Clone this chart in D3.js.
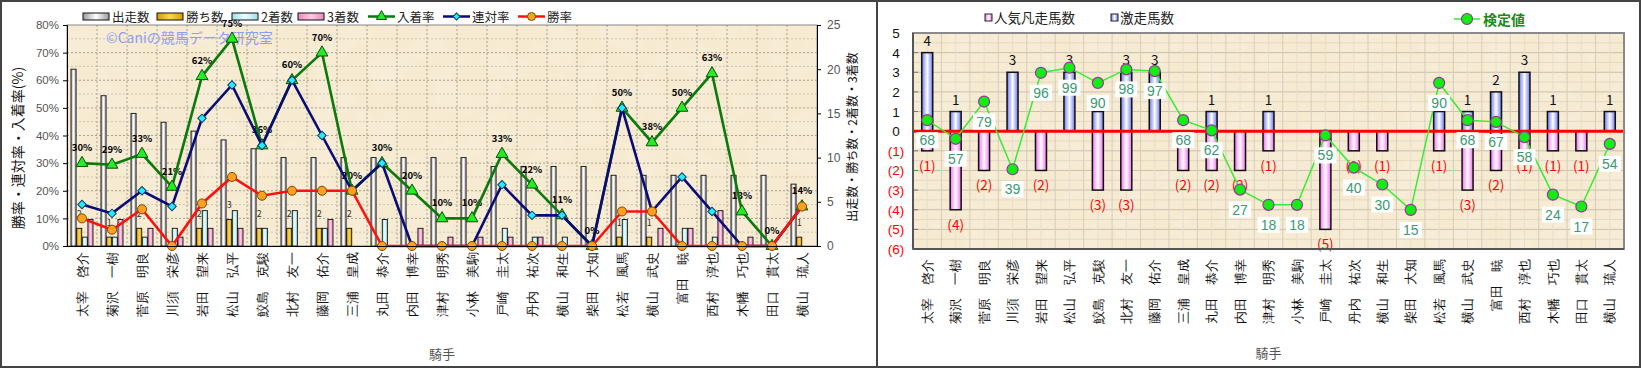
<!DOCTYPE html>
<html><head><meta charset="utf-8">
<script src="https://cdn.jsdelivr.net/npm/d3@7"></script>
<style>
body{margin:0;background:#fff;}
svg{display:block;font-family:"Noto Sans CJK JP","Noto Sans",sans-serif;}
</style>
</head><body>
<svg id="c" width="1641" height="368"></svg>
<script>
// ---------- data ----------
const jockeys = ["太宰　啓介","菊沢　一樹","菅原　明良","川須　栄彦","岩田　望来","松山　弘平","鮫島　克駿","北村　友一","藤岡　佑介","三浦　皇成","丸田　恭介","内田　博幸","津村　明秀","小林　美駒","戸崎　圭太","丹内　祐次","横山　和生","柴田　大知","松若　風馬","横山　武史","富田　暁","西村　淳也","木幡　巧也","田口　貫太","横山　琉人"];
const starts  = [20,17,15,14,13,12,11,10,10,10,10,10,10,10,9,9,9,9,8,8,8,8,8,8,7];
const wins    = [2,1,2,0,2,3,2,2,2,2,0,0,0,0,0,0,0,0,1,1,0,0,0,0,1];
const seconds = [1,1,1,2,4,4,2,4,2,0,3,0,0,0,2,1,1,0,3,0,2,1,0,0,0];
const thirds  = [3,3,2,1,2,2,0,0,3,0,0,2,1,1,1,1,0,0,0,2,2,4,1,0,0];
const placeRate = [30,29.4,33.3,21.4,61.5,75,36.4,60,70,20,30,20,10,10,33.3,22.2,11.1,0,50,37.5,50,62.5,12.5,0,14.3];
const rentaiRate = [15,11.8,20,14.3,46.2,58.3,36.4,60,40,20,30,0,0,0,22.2,11.1,11.1,0,50,12.5,25,12.5,0,0,14.3];
const winRate = [10,5.9,13.3,0,15.4,25,18.2,20,20,20,0,0,0,0,0,0,0,0,12.5,12.5,0,0,0,0,14.3];
const leftTicks = [0,10,20,30,40,50,60,70,80];
const rightTicks = [0,5,10,15,20,25];

const gekisou = [4,1,0,3,0,3,1,3,3,0,1,0,1,0,0,0,0,0,1,1,2,3,1,0,1];
const bonsou  = [1,4,2,0,2,0,3,3,0,2,2,2,1,0,5,1,1,0,1,3,2,1,1,1,0];
const kentei  = [68,57,79,39,96,99,90,98,97,68,62,27,18,18,59,40,30,15,90,68,67,58,24,17,54];
const rightTickVals = [-6,-5,-4,-3,-2,-1,0,1,2,3,4,5];

// ---------- setup ----------
const svg = d3.select("#c");
const defs = svg.append("defs");
function hgrad(id, edge, mid){
  const g = defs.append("linearGradient").attr("id",id).attr("x1","0%").attr("x2","100%").attr("y1","0%").attr("y2","0%");
  g.append("stop").attr("offset","0%").attr("stop-color",edge);
  g.append("stop").attr("offset","50%").attr("stop-color",mid);
  g.append("stop").attr("offset","100%").attr("stop-color",edge);
}
hgrad("gRuns","#9a9a9a","#ffffff");
hgrad("gWins","#d49a00","#ffd84a");
hgrad("g2nd","#9fdde6","#eaffff");
hgrad("g3rd","#e58cbc","#ffc8e4");
hgrad("gBlue","#6a78f0","#ffffff");
hgrad("gPink","#f070f0","#ffffff");

// parchment texture
const filt = defs.append("filter").attr("id","paper").attr("x","0").attr("y","0").attr("width","100%").attr("height","100%");
filt.append("feTurbulence").attr("type","fractalNoise").attr("baseFrequency","0.035").attr("numOctaves","3").attr("seed","4").attr("result","n");
filt.append("feColorMatrix").attr("in","n").attr("type","matrix")
  .attr("values","0 0 0 0 1  0 0 0 0 1  0 0 0 0 1  0 0 0 0.55 -0.18");

// panel frames
svg.append("rect").attr("x",1).attr("y",1).attr("width",876).attr("height",366).attr("fill","#fff").attr("stroke","#444").attr("stroke-width",2);
svg.append("rect").attr("x",877).attr("y",1).attr("width",763).attr("height",366).attr("fill","#fff").attr("stroke","#444").attr("stroke-width",2);

// ================= LEFT CHART =================
const L = {l:67, r:817, t:25, b:246};
const x = d3.scaleBand().domain(jockeys).range([L.l, L.r]);
const yL = d3.scaleLinear().domain([0,80]).range([L.b, L.t]);
const yR = d3.scaleLinear().domain([0,25]).range([L.b, L.t]);
const sub = d3.scaleBand().domain(["runs","wins","2nd","3rd"]).range([4,26]).paddingInner(0.1);

const gl = svg.append("g");
gl.append("rect").attr("x",L.l).attr("y",L.t).attr("width",L.r-L.l).attr("height",L.b-L.t).attr("fill","#f6ead0");
gl.append("rect").attr("x",L.l).attr("y",L.t).attr("width",L.r-L.l).attr("height",L.b-L.t).attr("filter","url(#paper)").attr("opacity",0.6);
// gridlines
d3.range(5,80,5).forEach(v=>{
  gl.append("line").attr("x1",L.l).attr("x2",L.r).attr("y1",yL(v)).attr("y2",yL(v))
    .attr("stroke", v%10===0 ? "#a8a090" : "#cfc6b2").attr("stroke-dasharray","2,2").attr("stroke-width",1);
});
jockeys.forEach((j,i)=>{ if(i>0){
  gl.append("line").attr("x1",x(j)).attr("x2",x(j)).attr("y1",L.t).attr("y2",L.b)
    .attr("stroke","#a8a090").attr("stroke-dasharray","2,2");
}});
gl.append("rect").attr("x",L.l).attr("y",L.t).attr("width",L.r-L.l).attr("height",L.b-L.t).attr("fill","none").attr("stroke","#888");

// watermark
gl.append("text").attr("x",106).attr("y",43).attr("font-size",14).attr("fill","#8f9cf4").text("©Caniの競馬データ研究室");

// bars
const barSeries = [
  {key:"runs", vals:starts, fill:"url(#gRuns)"},
  {key:"wins", vals:wins, fill:"url(#gWins)"},
  {key:"2nd", vals:seconds, fill:"url(#g2nd)"},
  {key:"3rd", vals:thirds, fill:"url(#g3rd)"}
];
barSeries.forEach(s=>{
  gl.selectAll(".b"+s.key).data(s.vals).join("rect")
    .attr("x",(d,i)=>x(jockeys[i])+sub(s.key)).attr("width",sub.bandwidth())
    .attr("y",d=>yR(d)).attr("height",d=>yR(0)-yR(d))
    .attr("fill",s.fill).attr("stroke",d=>d>0?"#111":"none").attr("stroke-width",0.9);
});
// rate labels (above bars, below lines)
gl.selectAll(".rl").data(placeRate).join("text")
  .attr("x",(d,i)=>x(jockeys[i])+x.bandwidth()/2).attr("y",d=>yL(d)-12)
  .attr("text-anchor","middle").attr("font-size",9.5).attr("font-weight","bold").attr("fill","#000")
  .text(d=>Math.round(d)+"%");
// win count labels
gl.selectAll(".wl").data(wins).join("text")
  .attr("x",(d,i)=>x(jockeys[i])+sub("wins")+sub.bandwidth()/2).attr("y",d=>yR(d)-11)
  .attr("text-anchor","middle").attr("font-size",9).attr("fill","#333")
  .text(d=>d>0?d:"");

// lines
function drawLine(vals, color, symType, symSize, fill, stroke, rot){
  const line = d3.line().x((d,i)=>x(jockeys[i])+x.bandwidth()/2).y(d=>yL(d));
  gl.append("path").datum(vals).attr("d",line).attr("fill","none").attr("stroke",color).attr("stroke-width",2.6);
  gl.selectAll(null).data(vals).join("path")
    .attr("d",d3.symbol(symType,symSize))
    .attr("transform",(d,i)=>`translate(${x(jockeys[i])+x.bandwidth()/2},${yL(d)}) rotate(${rot})`)
    .attr("fill",fill).attr("stroke",stroke).attr("stroke-width",1);
}
drawLine(placeRate,"#0a7a0a",d3.symbolTriangle,60,"#22ee22","#0b4d0b",0);
drawLine(rentaiRate,"#0a0a78",d3.symbolSquare,36,"#22eeff","#0a3a6a",45);
drawLine(winRate,"#ff1010",d3.symbolCircle,64,"#ffa020","#7a4a00",0);

// axes
const axL = gl.append("g").attr("transform",`translate(${L.l},0)`)
  .call(d3.axisLeft(yL).tickValues(leftTicks).tickFormat(d=>d+"%").tickSize(4).tickPadding(4));
axL.selectAll("text").attr("font-size",11.5).attr("fill","#555").attr("font-family","Liberation Sans, Arial, sans-serif");
axL.select(".domain").attr("stroke","#000");
const axR = gl.append("g").attr("transform",`translate(${L.r},0)`)
  .call(d3.axisRight(yR).tickValues(rightTicks).tickSize(4).tickPadding(6));
axR.selectAll("text").attr("font-size",12).attr("fill","#555").attr("font-family","Liberation Sans, Arial, sans-serif");
axR.select(".domain").attr("stroke","#000");
const axB = gl.append("g").attr("transform",`translate(0,${L.b})`)
  .call(d3.axisBottom(x).tickSize(0));
axB.select(".domain").attr("stroke","#000");
axB.selectAll("text").attr("transform","translate(0,6) rotate(-90)").attr("x",0).attr("y",0).attr("dy","0.36em")
  .style("text-anchor","end").attr("font-size",13).attr("fill","#111");

// titles
gl.append("text").attr("transform","translate(23,148) rotate(-90)").attr("text-anchor","middle")
  .attr("font-size",14).attr("fill","#111").text("勝率・連対率・入着率(%)");
gl.append("text").attr("transform","translate(857,137) rotate(-90)").attr("text-anchor","middle")
  .attr("font-size",12).attr("fill","#111").text("出走数・勝ち数・2着数・3着数");
gl.append("text").attr("x",(L.l+L.r)/2).attr("y",359).attr("text-anchor","middle")
  .attr("font-size",13).attr("fill","#555").text("騎手");

// legend
const legL = [
  {t:"出走数", f:"url(#gRuns)", x:83},
  {t:"勝ち数", f:"url(#gWins)", x:157},
  {t:"2着数", f:"url(#g2nd)", x:232},
  {t:"3着数", f:"url(#g3rd)", x:298}
];
legL.forEach(d=>{
  gl.append("rect").attr("x",d.x).attr("y",13).attr("width",26).attr("height",7).attr("fill",d.f).attr("stroke","#111").attr("stroke-width",1);
  gl.append("text").attr("x",d.x+29).attr("y",21.5).attr("font-size",12.5).attr("fill","#222").text(d.t);
});
const legLines = [
  {t:"入着率", c:"#0a7a0a", x:368, sym:d3.symbolTriangle, s:45, f:"#22ee22", st:"#0b4d0b", r:0},
  {t:"連対率", c:"#0a0a78", x:443, sym:d3.symbolSquare, s:25, f:"#22eeff", st:"#0a3a6a", r:45},
  {t:"勝率", c:"#ff1010", x:518, sym:d3.symbolCircle, s:50, f:"#ffa020", st:"#7a4a00", r:0}
];
legLines.forEach(d=>{
  gl.append("line").attr("x1",d.x).attr("x2",d.x+27).attr("y1",16.5).attr("y2",16.5).attr("stroke",d.c).attr("stroke-width",2.5);
  gl.append("path").attr("d",d3.symbol(d.sym,d.s)).attr("transform",`translate(${d.x+13.5},16.5) rotate(${d.r})`)
    .attr("fill",d.f).attr("stroke",d.st);
  gl.append("text").attr("x",d.x+29).attr("y",21.5).attr("font-size",12.5).attr("fill","#222").text(d.t);
});

// ================= RIGHT CHART =================
const R = {l:913, r:1624, t:33, b:249};
const x2 = d3.scaleBand().domain(jockeys).range([R.l, R.r]);
const y2 = d3.scaleLinear().domain([-6,5]).range([R.b, R.t]);
const kScale = d3.scaleLinear().domain([-8.1,119.5]).range([R.b, R.t]);
const gr = svg.append("g");
gr.append("rect").attr("x",R.l).attr("y",R.t).attr("width",R.r-R.l).attr("height",R.b-R.t).attr("fill","#f6ead0");
gr.append("rect").attr("x",R.l).attr("y",R.t).attr("width",R.r-R.l).attr("height",R.b-R.t).attr("filter","url(#paper)").attr("opacity",0.6);
d3.range(-5.5,5,0.5).forEach(v=>{
  gr.append("line").attr("x1",R.l).attr("x2",R.r).attr("y1",y2(v)).attr("y2",y2(v))
    .attr("stroke", Number.isInteger(v) ? "#c9c0ae" : "#e2d9c6").attr("stroke-width",1);
});
jockeys.forEach((j,i)=>{
  if(i>0) gr.append("line").attr("x1",x2(j)).attr("x2",x2(j)).attr("y1",R.t).attr("y2",R.b).attr("stroke","#d6cdb9");
  gr.append("line").attr("x1",x2(j)+x2.bandwidth()/2).attr("x2",x2(j)+x2.bandwidth()/2).attr("y1",R.t).attr("y2",R.b).attr("stroke","#e6dece");
});
// y ticks inward
rightTickVals.forEach(v=>{
  gr.append("line").attr("x1",R.l).attr("x2",R.l+5).attr("y1",y2(v)).attr("y2",y2(v)).attr("stroke","#777");
});
const bw = 11;
gr.selectAll(".gb").data(gekisou).join("rect")
  .attr("x",(d,i)=>x2(jockeys[i])+x2.bandwidth()/2-bw/2).attr("width",bw)
  .attr("y",d=>y2(d)).attr("height",d=>y2(0)-y2(d))
  .attr("fill","url(#gBlue)").attr("stroke",d=>d>0?"#111":"none").attr("stroke-width",1.5);
gr.selectAll(".pb").data(bonsou).join("rect")
  .attr("x",(d,i)=>x2(jockeys[i])+x2.bandwidth()/2-bw/2).attr("width",bw)
  .attr("y",y2(0)).attr("height",d=>y2(-d)-y2(0))
  .attr("fill","url(#gPink)").attr("stroke",d=>d>0?"#111":"none").attr("stroke-width",1.5);
// zero line
gr.append("line").attr("x1",R.l).attr("x2",R.r).attr("y1",y2(0)).attr("y2",y2(0)).attr("stroke","#ff0000").attr("stroke-width",3);
// count labels
gr.selectAll(".gl").data(gekisou).join("text")
  .attr("x",(d,i)=>x2(jockeys[i])+x2.bandwidth()/2).attr("y",d=>y2(d)-7)
  .attr("text-anchor","middle").attr("font-size",13.5).attr("fill","#111").text(d=>d>0?d:"");
gr.selectAll(".pl").data(bonsou).join("text")
  .attr("x",(d,i)=>x2(jockeys[i])+x2.bandwidth()/2).attr("y",d=>y2(-d)+20)
  .attr("text-anchor","middle").attr("font-size",13.5).attr("fill","#ff0000").text(d=>d>0?`(${d})`:"");
// kentei line
const kline = d3.line().x((d,i)=>x2(jockeys[i])+x2.bandwidth()/2).y(d=>kScale(d));
gr.append("path").datum(kentei).attr("d",kline).attr("fill","none").attr("stroke","#33ee33").attr("stroke-width",1.5);
gr.selectAll(".kc").data(kentei).join("circle")
  .attr("cx",(d,i)=>x2(jockeys[i])+x2.bandwidth()/2).attr("cy",d=>kScale(d)).attr("r",5.5)
  .attr("fill","#11ee11").attr("stroke","#993399").attr("stroke-width",1.2);
const kl = gr.selectAll(".kl").data(kentei).join("g")
  .attr("transform",(d,i)=>`translate(${x2(jockeys[i])+x2.bandwidth()/2},${kScale(d)+20})`);
kl.append("rect").attr("x",-11).attr("y",-8).attr("width",22).attr("height",16).attr("fill","#fff");
kl.append("text").attr("y",5).attr("text-anchor","middle").attr("font-size",14).attr("fill","#3a9a72")
  .attr("font-family","Liberation Sans, Arial, sans-serif").text(d=>d);
// plot frame
gr.append("rect").attr("x",R.l).attr("y",R.t).attr("width",R.r-R.l).attr("height",R.b-R.t).attr("fill","none").attr("stroke","#8a8a8a").attr("stroke-width",2);
gr.append("line").attr("x1",R.l).attr("x2",R.l).attr("y1",R.t).attr("y2",R.b).attr("stroke","#555").attr("stroke-width",2);
gr.append("line").attr("x1",R.l).attr("x2",R.r).attr("y1",R.b).attr("y2",R.b).attr("stroke","#555").attr("stroke-width",2);
// y tick labels
gr.selectAll(".yt").data(rightTickVals).join("text")
  .attr("x",896).attr("y",d=>y2(d)+5).attr("text-anchor","middle").attr("font-size",13.5)
  .attr("font-family","Liberation Sans, Arial, sans-serif")
  .attr("fill",d=>d<0?"#ff0000":"#111").text(d=>d<0?`(${-d})`:d);
// x labels
const axB2 = gr.append("g").attr("transform",`translate(0,${R.b})`).call(d3.axisBottom(x2).tickSize(0));
axB2.select(".domain").remove();
axB2.selectAll("text").attr("transform","translate(0,10) rotate(-90)").attr("x",0).attr("y",0).attr("dy","0.36em")
  .style("text-anchor","end").attr("font-size",13).attr("fill","#111");
gr.append("text").attr("x",(R.l+R.r)/2).attr("y",358).attr("text-anchor","middle").attr("font-size",13).attr("fill","#555").text("騎手");
// legend
gr.append("rect").attr("x",985).attr("y",14).attr("width",7).attr("height",7).attr("fill","url(#gPink)").attr("stroke","#222");
gr.append("text").attr("x",994).attr("y",23).attr("font-size",13.5).attr("fill","#222").text("人気凡走馬数");
gr.append("rect").attr("x",1111).attr("y",14).attr("width",7).attr("height",7).attr("fill","url(#gBlue)").attr("stroke","#222");
gr.append("text").attr("x",1120).attr("y",23).attr("font-size",13.5).attr("fill","#222").text("激走馬数");
gr.append("line").attr("x1",1454).attr("x2",1480).attr("y1",19).attr("y2",19).attr("stroke","#33ee33").attr("stroke-width",1.5);
gr.append("circle").attr("cx",1467).attr("cy",19).attr("r",5.5).attr("fill","#11ee11").attr("stroke","#993399").attr("stroke-width",1.2);
gr.append("text").attr("x",1483).attr("y",24.5).attr("font-size",14).attr("font-weight","bold").attr("fill","#1a8a1a").text("検定値");
</script>
</body></html>
